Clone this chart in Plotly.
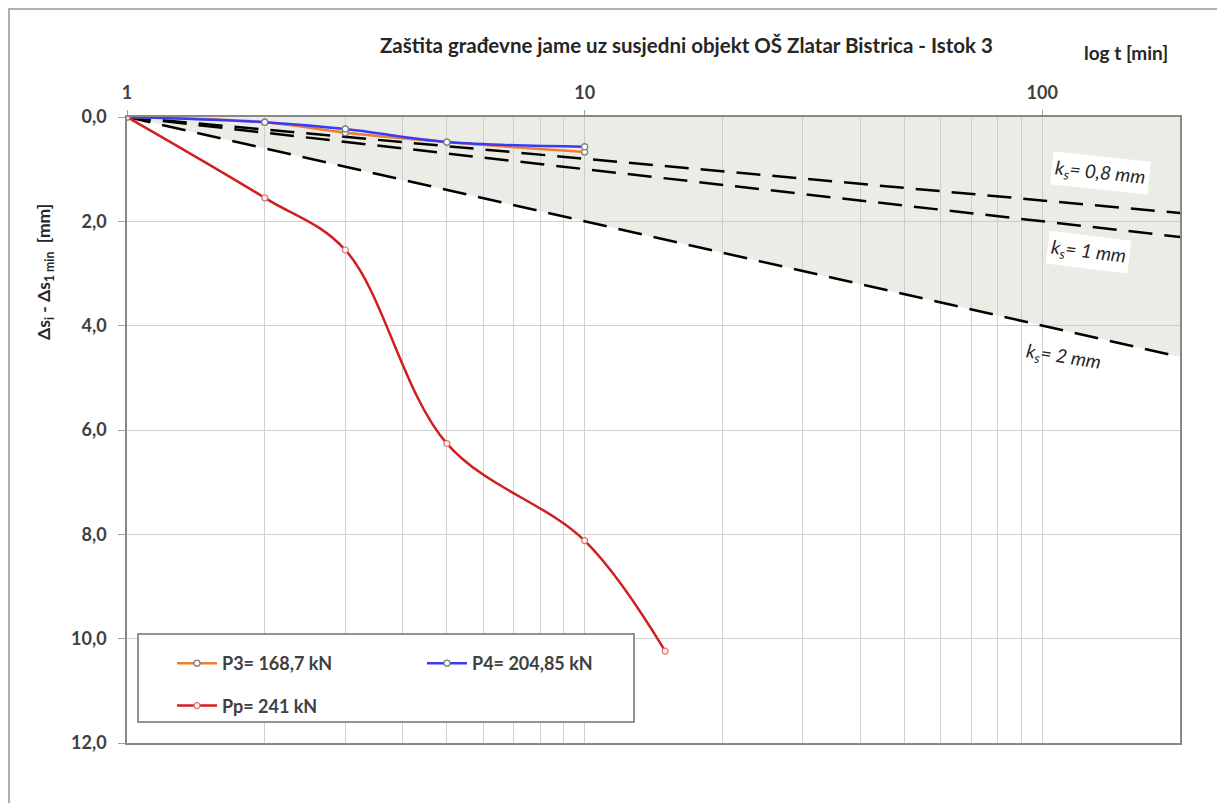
import plotly.graph_objects as go

# ---- data ----
t_meas = [1, 2, 3, 5, 10]
p3_vals = [0.0, 0.10, 0.30, 0.48, 0.67]
p4_vals = [0.0, 0.10, 0.23, 0.48, 0.57]
t_pp = [1, 2, 3, 5, 10, 15]
pp_vals = [0.0, 1.55, 2.55, 6.26, 8.12, 10.24]

t_ref = [1, 200]
ks08_vals = [0.0, 1.84]
ks1_vals = [0.0, 2.30]
ks2_vals = [0.0, 4.60]
zero_vals = [0.0, 0.0]

x_major = [1, 10, 100]
x_major_text = ["1", "10", "100"]
x_minor = [2, 3, 4, 5, 6, 7, 8, 9, 20, 30, 40, 50, 60, 70, 80, 90]
y_ticks = [0, 2, 4, 6, 8, 10, 12]

FONT = "Lato"
TXT = "#404040"
DARK = "#262626"

fig = go.Figure()

# grey region (0 .. ks=2 line)
fig.add_trace(go.Scatter(x=t_ref, y=zero_vals, mode="lines", line=dict(width=0),
                         showlegend=False, hoverinfo="skip"))
fig.add_trace(go.Scatter(x=t_ref, y=ks2_vals, mode="lines", fill="tonexty",
                         fillcolor="rgba(200,200,182,0.35)",
                         line=dict(color="black", width=2.5, dash="24px,12px"),
                         showlegend=False, hoverinfo="skip"))
for vals in (ks08_vals, ks1_vals):
    fig.add_trace(go.Scatter(x=t_ref, y=vals, mode="lines",
                             line=dict(color="black", width=2.5, dash="24px,12px"),
                             showlegend=False, hoverinfo="skip"))

mk_gray = dict(symbol="circle", size=6, color="white", line=dict(color="#808080", width=1.3))
fig.add_trace(go.Scatter(x=t_meas, y=p3_vals, mode="lines+markers", name="P3= 168,7 kN",
                         line=dict(color="#ED7D31", width=2.5, shape="spline"),
                         marker=mk_gray, legend="legend", legendgroup="a"))
fig.add_trace(go.Scatter(x=t_meas, y=p4_vals, mode="lines+markers", name="P4= 204,85 kN",
                         line=dict(color="#3B3BF5", width=2.5, shape="spline"),
                         marker=mk_gray, legend="legend2", legendgroup="c"))
fig.add_trace(go.Scatter(x=t_pp, y=pp_vals, mode="lines+markers", name="Pp= 241 kN",
                         line=dict(color="#D01F1F", width=2.5, shape="spline"),
                         marker=dict(symbol="circle", size=6, color="#fff4f4",
                                     line=dict(color="#E07070", width=1.2)),
                         legend="legend", legendgroup="b"))

OFF = 8  # page body margin
W, H = 1225 - OFF, 803 - OFF
# plot area in page pixels: left 127, right 1180, top 117, bottom 743
L, T = 127 - OFF, 117 - OFF
R, B = W - (1180 - OFF), H - (743 - OFF)
pw, ph = W - L - R, H - T - B

def px_x(px):
    return (px - OFF - L) / pw

def px_y(py):
    return (H - B - (py - OFF)) / ph

fig.update_layout(
    width=W, height=H,
    margin=dict(l=L, r=R, t=T, b=B),
    paper_bgcolor="white", plot_bgcolor="white",
    separators=",.",
    font=dict(family=FONT, color=TXT, size=18),
    xaxis=dict(type="log", range=[0, 2.301], side="top",
               tickvals=x_major, ticktext=x_major_text,
               showgrid=True, gridcolor="#d0d0d0", gridwidth=1,
               minor=dict(tickvals=x_minor, showgrid=True, gridcolor="#d0d0d0", gridwidth=1),
               ticks="outside", ticklen=5, tickcolor="#a0a0a0", ticklabelstandoff=4,
               showline=True, linecolor="#888888", linewidth=1.5, mirror=True,
               tickfont=dict(family=FONT, size=18, color=TXT, weight="bold"),
               zeroline=False),
    yaxis=dict(range=[12, 0], tickvals=y_ticks, tickformat=".1f",
               showgrid=True, gridcolor="#d0d0d0", gridwidth=1,
               ticks="outside", ticklen=7, tickcolor="#a0a0a0", ticklabelstandoff=8,
               showline=True, linecolor="#888888", linewidth=1.5, mirror=True,
               tickfont=dict(family=FONT, size=18, color=TXT, weight="bold"),
               zeroline=False),
    legend=dict(x=px_x(172), y=px_y(645), xanchor="left", yanchor="top",
                bgcolor="rgba(0,0,0,0)", borderwidth=0, tracegroupgap=16,
                itemwidth=40, font=dict(family=FONT, size=18, color=TXT, weight="bold")),
    legend2=dict(x=px_x(422), y=px_y(645), xanchor="left", yanchor="top",
                 bgcolor="rgba(0,0,0,0)", borderwidth=0,
                 itemwidth=40, font=dict(family=FONT, size=18, color=TXT, weight="bold")),
    showlegend=True,
)

# legend frame
fig.add_shape(type="rect", xref="paper", yref="paper",
              x0=px_x(138), x1=px_x(634), y0=px_y(722), y1=px_y(634),
              fillcolor="white", line=dict(color="#707070", width=1.5), layer="above")
# outer chart frame
fig.add_shape(type="rect", xref="paper", yref="paper",
              x0=px_x(9), x1=px_x(1223), y0=px_y(815), y1=px_y(9),
              fillcolor="rgba(0,0,0,0)", line=dict(color="#b0b0b0", width=2), layer="above")

def note(text, px, py, size=19, angle=0, bg="rgba(0,0,0,0)", **fkw):
    fig.add_annotation(text=text, xref="paper", yref="paper", x=px_x(px), y=px_y(py),
                       xanchor="center", yanchor="middle", showarrow=False,
                       textangle=angle, bgcolor=bg, borderpad=3,
                       font=dict(family=FONT, size=size, color=DARK, **fkw))

note("Zaštita građevne jame uz susjedni objekt OŠ Zlatar Bistrica - Istok 3", 686, 45,
     size=20.5, weight="bold")
note("log t [min]", 1126, 52, size=19, weight="bold")
note("Δs<sub>i</sub> - Δs<sub>1 min</sub>  [mm]", 45, 272, size=17.5, angle=-90, weight="bold")

ks_labels = ["k<sub>s</sub>= 0,8 mm", "k<sub>s</sub>= 1 mm", "k<sub>s</sub>= 2 mm"]
ks_pos = [(1100, 173, 6, "white"), (1088, 252, 7, "white"), (1063, 357, 9, "rgba(0,0,0,0)")]
for lab, (px, py, ang, bg) in zip(ks_labels, ks_pos):
    note(lab, px, py, size=19, angle=ang, bg=bg, style="italic")

fig.write_html("out.html")
